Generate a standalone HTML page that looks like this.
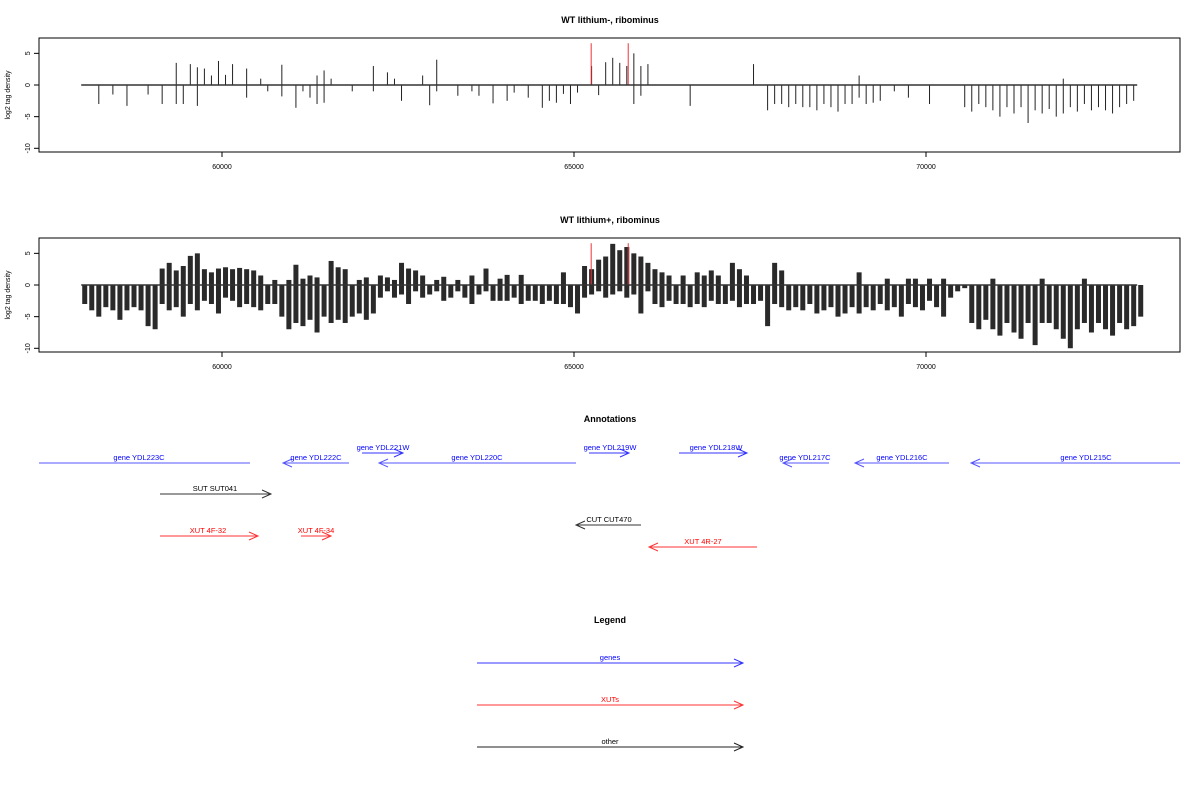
<!DOCTYPE html>
<html><head><meta charset="utf-8"><style>
body{margin:0;background:#fff;}
svg{display:block;font-family:"Liberation Sans",sans-serif;}
</style></head><body>
<svg id="c" width="1200" height="800" xmlns="http://www.w3.org/2000/svg"></svg>
<script>
// ---- data (100bp bins starting at 58000) ----
const binStart = 58000;
const binSize = 100;
const xTicks = [60000, 65000, 70000];
const yTicks = [5, 0, -5, -10];
const redSpikes = [65244, 65770];
const redValues = [6.6, 6.6];
const topPos = [0,0,0,0,0,0,0,0,0,0,0,0,0,3.5,0,3.3,2.8,2.6,1.5,3.8,1.6,3.3,0,2.6,0,1,0,0,3.2,0,0,0,0,1.5,2.3,1,0,0,0,0,0,3,0,2,1,0,0,0,1.5,0,4,0,0,0,0,0,0,0,0,0,0,0,0,0,0,0,0,0,0,0,0,0,3,0,3.6,4.3,3.5,3,5,3,3.3,0,0,0,0,0,0,0,0,0,0,0,0,0,0,3.3,0,0,0,0,0,0,0,0,0,0,0,0,0,0,1.5,0,0,0,0,0,0,0,0,0,0,0,0,0,0,0,0,0,0,0,0,0,0,0,0,0,0,0,0,1,0,0,0,0,0,0,0,0,0,0];
const topNeg = [0,0,-3,0,-1.5,0,-3.3,0,0,-1.5,0,-3,0,-3,-3,0,-3.3,0,0,0,0,0,0,-2,0,0,-1,0,-1.8,0,-3.6,-1,-2,-3,-2.8,0,0,0,-1,0,0,-1,0,0,0,-2.5,0,0,0,-3.2,-1,0,0,-1.7,0,-1,-1.7,0,-2.9,0,-2.5,-1.2,0,-2,0,-3.6,-2.5,-2.8,-1.4,-3,-1.2,0,0,-1.6,0,0,0,0,-3,-1.7,0,0,0,0,0,0,-3.3,0,0,0,0,0,0,0,0,0,0,-4,-3,-3,-3.5,-3,-3.5,-3.5,-4,-3,-3.5,-4.2,-3,-3,-2,-3,-2.8,-2.5,0,-1,0,-2,0,0,-3,0,0,0,0,-3.5,-4.2,-3,-3.5,-4,-5,-3.5,-4.5,-3.5,-6,-4,-4.5,-3.8,-5,-4.5,-3.5,-4.2,-3,-4,-3.5,-4,-4.5,-3.5,-3,-2.5];
const botPos = [0,0,0,0,0,0,0,0,0,0,0,2.6,3.5,2.3,3,4.6,5,2.5,2,2.6,2.8,2.5,2.7,2.5,2.3,1.5,0,0.8,0,0.8,3.2,1,1.5,1.2,0,3.8,2.8,2.5,0,0.8,1.2,0,1.5,1.2,0.8,3.5,2.6,2.3,1.5,0,0.8,1.3,0,0.8,0,1.5,0,2.6,0,1,1.6,0,1.6,0,0,0,0,0,2,0,0,3,2.5,4,4.5,6.5,5.5,6,5,4.5,3.5,2.5,2,1.5,0,1.5,0,2,1.5,2.3,1.5,0,3.5,2.5,1.5,0,0,0,3.5,2.3,0,0,0,0,0,0,0,0,0,0,2,0,0,0,1,0,0,1,1,0,1,0,1,0,0,0,0,0,0,1,0,0,0,0,0,0,1,0,0,0,0,0,1,0,0,0,0,0,0,0];
const botNeg = [-3,-4,-5,-3.5,-4,-5.5,-4,-3.5,-4,-6.5,-7,-3,-4,-3.5,-5,-3,-4,-2.5,-3,-4.5,-2,-2.5,-3.5,-3,-3.5,-4,-3,-3,-5,-7,-6,-6.5,-5.5,-7.5,-5,-6,-5.5,-6,-5,-4.5,-5.5,-4.5,-2,-1,-2,-1.5,-3,-1,-2,-1.5,-1,-2.5,-2,-1,-2,-3,-1.5,-1,-2.5,-2.5,-2.5,-2,-3,-2.5,-2.5,-3,-2.5,-3,-3,-3.5,-4.5,-2,-1.5,-1,-2,-1.5,-1,-2,-1.5,-4.5,-1,-3,-3.5,-2.5,-3,-3,-3.5,-3,-3.5,-2.5,-3,-3,-2.5,-3.5,-3,-3,-2.5,-6.5,-3,-3.5,-4,-3.5,-4,-3,-4.5,-4,-3.5,-5,-4.5,-3.5,-4.5,-3.5,-4,-3,-4,-3.5,-5,-3,-3.5,-4,-2.5,-3.5,-5,-2,-1,-0.5,-6,-7,-5.5,-7,-8,-6,-7.5,-8.5,-6,-9.5,-6,-6,-7,-8.5,-10,-7,-6,-7.5,-6,-7,-8,-6,-7,-6.5,-5];

const NS='http://www.w3.org/2000/svg';
const svg=document.getElementById('c');
function mk(tag,attrs,parent){const e=document.createElementNS(NS,tag);for(const k in attrs)e.setAttribute(k,attrs[k]);(parent||svg).appendChild(e);return e;}
const xScale = v => 222 + (v-60000)*0.0704;

function panel(y0, title, pos, neg, name){
  const g=mk('g',{});
  
  
  const yScale = v => y0 - v*6.33;
  const t=mk('text',{x:610,y:y0-62,'text-anchor':'middle','font-size':9,'font-weight':'bold'},g);
  t.textContent=title;
  
  
  const box=mk('rect',{x:39,y:y0-47,width:1141,height:114,fill:'none',stroke:'#000','stroke-width':1},g);
  
  
  const yl=mk('text',{transform:`translate(10,${y0+10}) rotate(-90)`,'text-anchor':'middle','font-size':7},g);
  yl.textContent='log2 tag density';
  
  
  yTicks.forEach(v=>{
    const yy=yScale(v);
    mk('line',{x1:34,x2:39,y1:yy,y2:yy,stroke:'#000'},g);
    const tt=mk('text',{transform:`translate(30,${yy}) rotate(-90)`,'text-anchor':'middle','font-size':7},g);
    tt.textContent=String(v);
    
    
  });
  xTicks.forEach(v=>{
    const xx=xScale(v);
    mk('line',{x1:xx,x2:xx,y1:y0+67,y2:y0+72,stroke:'#000'},g);
    const tt=mk('text',{x:xx,y:y0+84,'text-anchor':'middle','font-size':7},g);
    tt.textContent=String(v);
    
    
  });
  const sw = name==='bottom-panel'?5:1;
  const col = name==='bottom-panel'?'#2a2a2a':'#222';
  pos.forEach((v,i)=>{ if(!v) return;
    const xx=xScale(binStart+i*binSize+50);
    const l=mk('line',{x1:xx,x2:xx,y1:y0,y2:yScale(v),stroke:col,'stroke-width':sw},g);
    
    
  });
  neg.forEach((v,i)=>{ if(!v) return;
    const xx=xScale(binStart+i*binSize+50);
    const l=mk('line',{x1:xx,x2:xx,y1:y0,y2:yScale(v),stroke:col,'stroke-width':sw},g);
    
    
  });
  redSpikes.forEach((p,i)=>{
    const xx=xScale(p);
    const l=mk('line',{x1:xx,x2:xx,y1:y0,y2:yScale(redValues[i]),stroke:'#e33','stroke-width':1},g);
    
    
  });
  const base=mk('line',{x1:xScale(58000),x2:xScale(73000),y1:y0,y2:y0,stroke:'#333','stroke-width':1.5},g);
  
  
}
panel(85,'WT lithium-, ribominus',topPos,topNeg,'top-panel');
panel(285,'WT lithium+, ribominus',botPos,botNeg,'bottom-panel');

// annotations: [label, x1, x2, y, dir, color, labelX]
const annots = [
 ['gene YDL223C',39,250,463,0,'#5555ff',139],
 ['gene YDL222C',283,349,463,-1,'#5555ff',316],
 ['gene YDL221W',362,403,453,1,'#3333ff',383],
 ['gene YDL220C',379,576,463,-1,'#5555ff',477],
 ['gene YDL219W',589,629,453,1,'#3333ff',610],
 ['gene YDL218W',679,747,453,1,'#3333ff',716],
 ['gene YDL217C',783,829,463,-1,'#5555ff',805],
 ['gene YDL216C',855,949,463,-1,'#5555ff',902],
 ['gene YDL215C',971,1180,463,-1,'#5555ff',1086],
 ['SUT SUT041',160,271,494,1,'#333',215],
 ['XUT 4F-32',160,258,536,1,'#f33',208],
 ['XUT 4F-34',301,331,536,1,'#f33',316],
 ['CUT CUT470',576,641,525,-1,'#333',609],
 ['XUT 4R-27',649,757,547,-1,'#f33',703],
 ['genes',477,743,663,1,'#33f',610],
 ['XUTs',477,743,705,1,'#f33',610],
 ['other',477,743,747,1,'#222',610]
];
const txtColor = c => c==='#5555ff'||c==='#3333ff'||c==='#33f' ? '#00f' : (c==='#f33' ? '#f00' : '#000');
[['Annotations',610,422],['Legend',610,623]].forEach(([s,x,y])=>{
  const t=mk('text',{x:x,y:y,'text-anchor':'middle','font-size':9,'font-weight':'bold'});
  t.textContent=s;
  
  
});
annots.forEach(a=>{
  const [lab,x1,x2,y,dir,col,lx]=a;
  const g=mk('g',{});
  
  
  mk('line',{x1:x1,x2:x2,y1:y,y2:y,stroke:col,'stroke-width':1},g);
  if(dir===1) mk('polyline',{points:`${x2-9},${y-4} ${x2},${y} ${x2-9},${y+4}`,fill:'none',stroke:col},g);
  if(dir===-1) mk('polyline',{points:`${x1+9},${y-4} ${x1},${y} ${x1+9},${y+4}`,fill:'none',stroke:col},g);
  const t=mk('text',{x:lx,y:y-3,'text-anchor':'middle','font-size':7.5,fill:txtColor(col)},g);
  t.textContent=lab;
});
</script>
</body></html>
